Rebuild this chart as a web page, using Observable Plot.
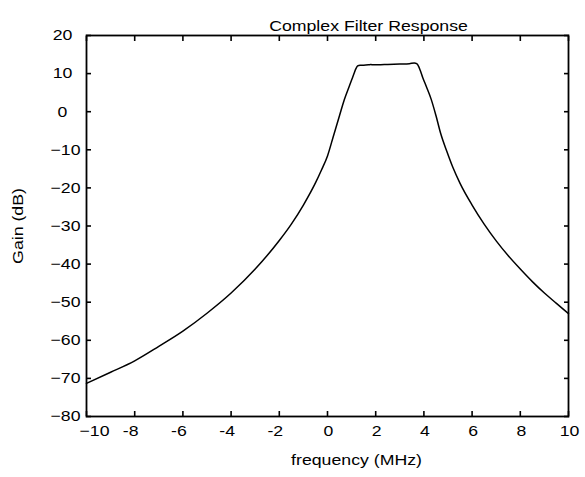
<!DOCTYPE html>
<html>
<head>
<meta charset="utf-8">
<script src="https://cdn.jsdelivr.net/npm/d3@7"></script>
<script src="https://cdn.jsdelivr.net/npm/@observablehq/plot@0.6"></script>
<style>
  html, body { margin: 0; padding: 0; background: #fff; }
  #chart { width: 585px; height: 477px; }
</style>
</head>
<body>
<div id="chart"></div>
<script>
// ---- data ----
const freq = [-10, -9, -8, -7, -6, -5, -4, -3, -2, -1.5, -1, -0.5, -0.25, 0, 0.25, 0.5, 0.7, 0.9, 1.0, 1.1, 1.18, 1.25, 1.35, 1.5, 1.7, 1.8, 1.9, 2.1, 2.5, 3.0, 3.4, 3.6, 3.7, 3.78, 3.85, 3.95, 4.1, 4.3, 4.5, 4.7, 4.95, 5.2, 5.5, 6, 6.5, 7, 7.5, 8, 8.5, 9, 9.5, 10];
const gain = [-71.3, -68.4, -65.4, -61.6, -57.6, -52.9, -47.6, -41.3, -33.8, -29.5, -24.5, -18.7, -15.3, -11.6, -6.3, -1.0, 3.2, 6.6, 8.3, 10.0, 11.3, 12.0, 12.2, 12.2, 12.3, 12.4, 12.3, 12.3, 12.4, 12.5, 12.6, 12.8, 12.6, 11.9, 10.8, 9.0, 6.6, 3.3, -1.0, -5.8, -10.4, -14.6, -18.8, -24.5, -29.5, -33.9, -37.8, -41.3, -44.6, -47.6, -50.3, -53.0];

const xTicks = [-10, -8, -6, -4, -2, 0, 2, 4, 6, 8, 10];
const xTickLabels = ["\u221210", "-8", "-6", "-4", "-2", "0", "2", "4", "6", "8", "10"];
const yTicks = [20, 10, 0, -10, -20, -30, -40, -50, -60, -70, -80];
const yTickLabels = ["20", "10", "0", "\u221210", "\u221220", "\u221230", "\u221240", "\u221250", "\u221260", "\u221270", "\u221280"];

const titleText = "Complex Filter Response";
const xLabel = "frequency (MHz)";
const yLabel = "Gain (dB)";

// ---- build ----
const data = freq.map((f, i) => ({f, g: gain[i]}));
const xl = xTicks.map((v, i) => ({v, s: xTickLabels[i]}));
const yl = yTicks.map((v, i) => ({v, s: yTickLabels[i]}));

const fs = 15;
const chart = Plot.plot({
  width: 585,
  height: 477,
  marginLeft: 86,
  marginRight: 17,
  marginTop: 35,
  marginBottom: 61,
  style: {fontFamily: "'Liberation Sans', Arial, sans-serif", fontSize: fs + "px", background: "#fff", color: "#000", overflow: "visible"},
  x: {domain: [-10, 10]},
  y: {domain: [-80, 20]},
  marks: [
    // inward ticks on all four sides
    Plot.axisX(xTicks, {anchor: "bottom", tickSize: 5, dy: -5, tickFormat: () => "", label: null, strokeWidth: 1.6}),
    Plot.axisX(xTicks, {anchor: "top", tickSize: 5, dy: 5, tickFormat: () => "", label: null, strokeWidth: 1.6}),
    Plot.axisY(yTicks, {anchor: "left", tickSize: 5, dx: 5, tickFormat: () => "", label: null, strokeWidth: 1.6}),
    Plot.axisY(yTicks, {anchor: "right", tickSize: 5, dx: -5, tickFormat: () => "", label: null, strokeWidth: 1.6}),
    Plot.frame({stroke: "#000", strokeWidth: 1.8}),
    Plot.line(data, {x: "f", y: "g", stroke: "#000", strokeWidth: 1.5, curve: "monotone-x"}),
    // x tick labels
    Plot.text(xl.filter(d => d.v === -10), {x: "v", text: "s", frameAnchor: "bottom", textAnchor: "middle", dy: 19, dx: 8, fill: "#000"}),
    Plot.text(xl.filter(d => d.v < 0 && d.v > -10), {x: "v", text: "s", frameAnchor: "bottom", textAnchor: "middle", dy: 19, dx: -4, fill: "#000"}),
    Plot.text(xl.filter(d => d.v >= 0), {x: "v", text: "s", frameAnchor: "bottom", textAnchor: "middle", dy: 19, dx: 1, fill: "#000"}),
    // y tick labels
    Plot.text(yl.filter(d => d.v >= 0), {y: "v", text: "s", frameAnchor: "left", textAnchor: "middle", dx: -24, fill: "#000"}),
    Plot.text(yl.filter(d => d.v < 0), {y: "v", text: "s", frameAnchor: "left", textAnchor: "middle", dx: -21, fill: "#000"}),
    // title and axis labels
    Plot.text([titleText], {text: d => d, frameAnchor: "top", textAnchor: "middle", dy: -15, dx: 41, fill: "#000"}),
    Plot.text([xLabel], {text: d => d, frameAnchor: "bottom", textAnchor: "middle", dy: 48, dx: 29, fill: "#000"}),
    Plot.text([yLabel], {text: d => d, frameAnchor: "left", textAnchor: "middle", dx: -68, rotate: -90, fill: "#000"})
  ]
});
document.getElementById("chart").appendChild(chart);

// widen text slightly (along its baseline) to match the reference's wide lettering
const S = 1.18;
chart.querySelectorAll("text").forEach(t => {
  const w = t.getComputedTextLength();
  if (w > 0) {
    t.setAttribute("textLength", (w * S).toFixed(1));
    t.setAttribute("lengthAdjust", "spacingAndGlyphs");
  }
});
</script>
</body>
</html>
